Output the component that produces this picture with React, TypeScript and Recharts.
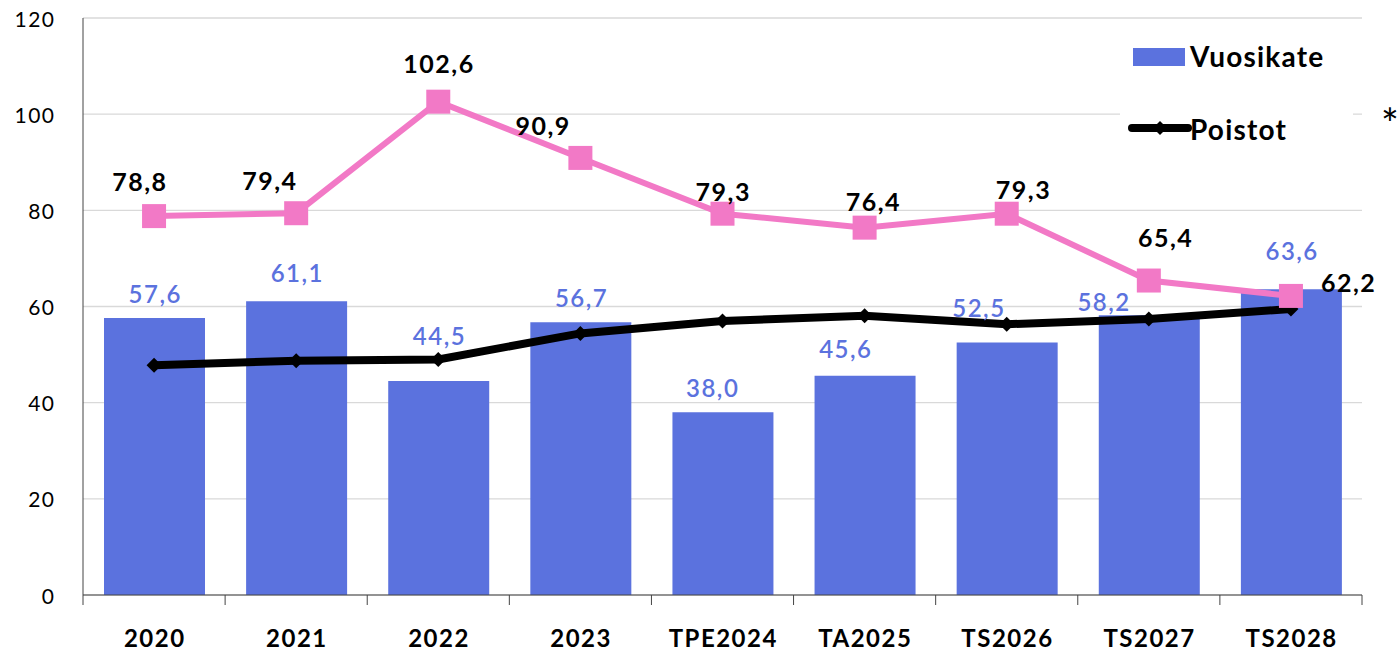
import React from 'react';
import { ComposedChart, Bar, Line, XAxis, YAxis, CartesianGrid, LabelList } from 'recharts';

const categories = ['2020', '2021', '2022', '2023', 'TPE2024', 'TA2025', 'TS2026', 'TS2027', 'TS2028'];
const vuosikate = [57.6, 61.1, 44.5, 56.7, 38.0, 45.6, 52.5, 58.2, 63.6];
const poistot = [47.8, 48.7, 49.0, 54.4, 57.0, 58.1, 56.3, 57.4, 59.5];
const pinkSeries = [78.8, 79.4, 102.6, 90.9, 79.3, 76.4, 79.3, 65.4, 62.2];
const yTicks = [0, 20, 40, 60, 80, 100, 120];

// label placement tweaks (style, not data)
const barLabelShift = [
  [0, -25], [0, -29], [0, -46], [0, -25], [-11, -25], [-20, -27], [-29, -35], [-46, -14], [0, -39],
];
const pinkLabelShift = [
  [-15, -35], [-27, -33], [0, -39], [-38, -33], [0, -23], [8, -27], [16, -25], [16, -44], [57, -14],
];

const W = 1399;
const H = 652;
const M_TOP = 18;
const M_RIGHT = 37;
const Y_W = 83;
const X_H = 57;
const PLOT_W = W - M_RIGHT - Y_W;
const HALF_BAND = PLOT_W / categories.length / 2;

const BLUE = '#5B72DE';
const PINK = '#F279C6';
const FONT = 'Lato, "Open Sans", sans-serif';

const data = categories.map((c, i) => ({
  cat: c,
  vuosikate: vuosikate[i],
  poistot: poistot[i],
  pink: pinkSeries[i],
}));

const fmt = (v: number) => v.toFixed(1).replace('.', ',');

const XTick = (props: any) => {
  const { x, y, payload, index } = props;
  const last = index === categories.length - 1;
  return (
    <g>
      <line x1={x - HALF_BAND} x2={x - HALF_BAND} y1={y} y2={y + 10} stroke="#444" strokeWidth={1} />
      {last && <line x1={x + HALF_BAND} x2={x + HALF_BAND} y1={y} y2={y + 10} stroke="#444" strokeWidth={1} />}
      <text
        x={x + 0.75}
        y={y + 42}
        textAnchor="middle"
        dominantBaseline="central"
        fontFamily={FONT}
        fontWeight={700}
        fontSize={24}
        letterSpacing={1.5}
        fill="#000"
      >
        {payload.value}
      </text>
    </g>
  );
};

const YTick = (props: any) => {
  const { x, y, payload } = props;
  return (
    <text
      x={x + 1.5}
      y={y}
      textAnchor="end"
      dominantBaseline="central"
      fontFamily={FONT}
      fontSize={21}
      letterSpacing={1.5}
      fill="#000"
    >
      {payload.value}
    </text>
  );
};

const BarLabel = (props: any) => {
  const { x, y, width, value, index } = props;
  const [dx, dy] = barLabelShift[index] || [0, -25];
  return (
    <text
      x={x + width / 2 + dx + 0.75}
      y={y + dy}
      textAnchor="middle"
      dominantBaseline="central"
      fontFamily={FONT}
      fontWeight={600}
      fontSize={24}
      letterSpacing={1.5}
      fill={BLUE}
    >
      {fmt(value)}
    </text>
  );
};

const PinkLabel = (props: any) => {
  const { x, y, value, index } = props;
  const [dx, dy] = pinkLabelShift[index] || [0, -35];
  return (
    <text
      x={x + dx + 0.75}
      y={y + dy}
      textAnchor="middle"
      dominantBaseline="central"
      fontFamily={FONT}
      fontWeight={700}
      fontSize={25}
      letterSpacing={1.5}
      fill="#000"
    >
      {fmt(value)}
    </text>
  );
};

const SquareDot = (props: any) => {
  const { cx, cy, index } = props;
  if (cx == null || cy == null) return null;
  return <rect key={`sq-${index}`} x={cx - 12} y={cy - 12} width={24} height={24} fill={PINK} />;
};

const DiamondDot = (props: any) => {
  const { cx, cy, index } = props;
  if (cx == null || cy == null) return null;
  const s = 7.5;
  return (
    <path
      key={`dm-${index}`}
      d={`M${cx},${cy - s} L${cx + s},${cy} L${cx},${cy + s} L${cx - s},${cy} Z`}
      fill="#000"
    />
  );
};

const legendText: React.CSSProperties = {
  position: 'absolute',
  left: 70,
  fontFamily: FONT,
  fontWeight: 700,
  fontSize: 28,
  letterSpacing: 1.2,
  lineHeight: '34px',
  color: '#000',
  whiteSpace: 'nowrap',
};

const LegendBox = () => (
  <div style={{ position: 'absolute', left: 1120, top: 30, width: 279, height: 130 }}>
    <div
      style={{
        position: 'absolute',
        left: 0,
        top: 0,
        width: 233,
        height: 130,
        background: '#fff',
      }}
    >
      <div style={{ position: 'absolute', left: 13, top: 18, width: 52, height: 18, background: BLUE }} />
      <div style={{ ...legendText, top: 9 }}>Vuosikate</div>
      <svg style={{ position: 'absolute', left: 8, top: 88 }} width={64} height={20}>
        <line x1={4} x2={60} y1={10} y2={10} stroke="#000" strokeWidth={8} strokeLinecap="round" />
        <path d="M32,3 L39,10 L32,17 L25,10 Z" fill="#000" />
      </svg>
      <div style={{ ...legendText, top: 82 }}>Poistot</div>
    </div>
    <div
      style={{
        position: 'absolute',
        left: 261,
        top: 72,
        fontFamily: FONT,
        fontSize: 42,
        lineHeight: '42px',
        color: '#000',
      }}
    >
      *
    </div>
  </div>
);

export default function App() {
  return (
    <div style={{ position: 'absolute', left: 0, top: 0, width: W, height: H, background: '#fff' }}>
      <ComposedChart
        width={W}
        height={H}
        data={data}
        margin={{ top: M_TOP, right: M_RIGHT, bottom: 0, left: 0 }}
      >
        <CartesianGrid horizontal vertical={false} stroke="#d9d9d9" strokeWidth={1.3} />
        <XAxis
          dataKey="cat"
          height={X_H}
          tickLine={false}
          tickSize={0}
          tickMargin={0}
          axisLine={{ stroke: '#444', strokeWidth: 1 }}
          tick={<XTick />}
          interval={0}
        />
        <YAxis
          width={Y_W}
          domain={[0, 120]}
          ticks={yTicks}
          tickLine={false}
          tickSize={0}
          tickMargin={29}
          axisLine={{ stroke: '#444', strokeWidth: 1 }}
          tick={<YTick />}
          interval={0}
        />
        <Bar dataKey="vuosikate" fill={BLUE} barSize={101} isAnimationActive={false}>
          <LabelList dataKey="vuosikate" content={<BarLabel />} />
        </Bar>
        <Line
          dataKey="poistot"
          stroke="#000"
          strokeWidth={8}
          dot={<DiamondDot />}
          activeDot={false}
          isAnimationActive={false}
        />
        <Line
          dataKey="pink"
          stroke={PINK}
          strokeWidth={6}
          dot={<SquareDot />}
          activeDot={false}
          isAnimationActive={false}
        >
          <LabelList dataKey="pink" content={<PinkLabel />} />
        </Line>
      </ComposedChart>
      <LegendBox />
    </div>
  );
}
